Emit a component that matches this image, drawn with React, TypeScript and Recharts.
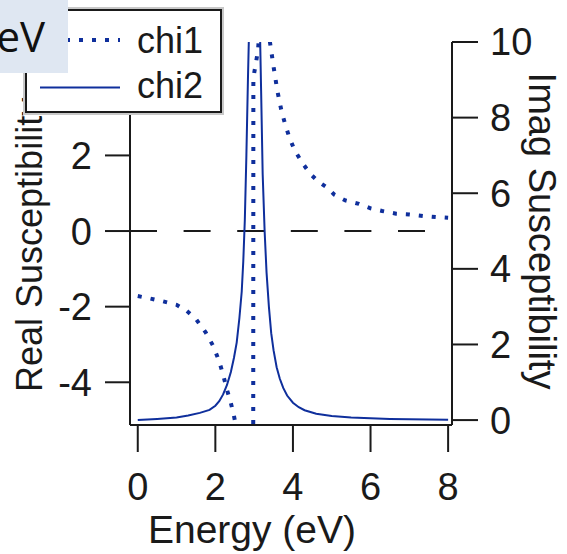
import React from 'react';
import { ComposedChart, Line, XAxis, YAxis, ReferenceLine, Legend, Label } from 'recharts';

const energyTicks = [0, 2, 4, 6, 8];
const realTicks = [-4, -2, 0, 2, 4];
const imagTicks = [0, 2, 4, 6, 8, 10];

const chi1Energy = [0, 0.3, 0.65, 1.0, 1.25, 1.5, 1.75, 1.95, 2.1, 2.2, 2.3, 2.4, 2.47, 2.55, 2.65, 2.75, 2.85, 2.92, 2.955, 2.98, 3.1, 3.2, 3.3, 3.4, 3.5, 3.6, 3.7, 3.8, 3.9, 4.04, 4.25, 4.45, 4.66, 4.88, 5.07, 5.35, 5.7, 6.0, 6.3, 6.66, 7.0, 7.35, 7.7, 8.0];
const chi1Values = [-1.72, -1.78, -1.86, -1.95, -2.1, -2.33, -2.68, -3.05, -3.45, -3.8, -4.2, -4.55, -4.84, -5.25, -6.0, -7.5, -11, -20, -60, 4.05, 4.78, 6.3, 5.9, 5.05, 4.35, 3.7, 3.2, 2.82, 2.5, 2.14, 1.79, 1.51, 1.3, 1.15, 0.96, 0.81, 0.72, 0.6, 0.53, 0.46, 0.44, 0.4, 0.37, 0.35];

const chi2Energy = [0, 0.5, 1.0, 1.3, 1.6, 1.85, 2.0, 2.1, 2.2, 2.3, 2.4, 2.48, 2.55, 2.62, 2.68, 2.72, 2.76, 2.8, 2.84, 2.88, 2.95, 3.02, 3.1, 3.15, 3.18, 3.22, 3.27, 3.32, 3.38, 3.44, 3.5, 3.58, 3.66, 3.75, 3.85, 4.0, 4.15, 4.3, 4.6, 5.0, 5.5, 6.0, 6.5, 7.0, 8.0];
const chi2Values = [0.0, 0.03, 0.07, 0.12, 0.19, 0.27, 0.38, 0.5, 0.68, 0.93, 1.27, 1.65, 2.05, 2.7, 3.4, 4.2, 5.3, 7.0, 9.0, 10.8, 13.0, 14.0, 12.5, 10.3, 8.7, 6.5, 5.0, 3.9, 3.0, 2.3, 1.85, 1.4, 1.1, 0.85, 0.65, 0.46, 0.34, 0.26, 0.17, 0.11, 0.07, 0.05, 0.03, 0.02, 0.01];

const seriesNames = ['chi1', 'chi2'];

const chi1Data = chi1Energy.map((e, i) => ({ e, chi1: chi1Values[i] }));
const chi2Data = chi2Energy.map((e, i) => ({ e, chi2: chi2Values[i] }));

const FONT = '"Liberation Sans", Arial, sans-serif';
const INK = '#1a1a1a';
const BLUE = '#0f2f9c';

const renderLegend = () => (
  <svg width={201} height={108} style={{ display: 'block' }}>
    <rect x={1} y={1} width={199} height={106} fill="#fff" stroke="#c8c8c8" strokeWidth={2} />
    <rect x={3} y={3} width={195} height={102} fill="#fff" stroke={INK} strokeWidth={2} />
    <line x1={17} x2={97} y1={33} y2={33} stroke={BLUE} strokeWidth={4} strokeDasharray="4 9" />
    <line x1={17} x2={97} y1={80.5} y2={80.5} stroke={BLUE} strokeWidth={2} />
    <text x={114} y={46} fontSize={36} fontFamily={FONT} fill={INK}>{seriesNames[0]}</text>
    <text x={114} y={91} fontSize={36} fontFamily={FONT} fill={INK}>{seriesNames[1]}</text>
  </svg>
);

export default function App() {
  const axisStroke = { stroke: INK, strokeWidth: 2 };
  const tickStyle = { fill: INK, fontSize: 38, fontFamily: FONT };
  return (
    <div style={{ position: 'absolute', left: 0, top: 0, width: 567, height: 554, background: '#fff', overflow: 'hidden' }}>
      <ComposedChart width={567} height={554} margin={{ top: 42, right: 0, bottom: 0, left: 0 }}>
        <XAxis
          type="number"
          dataKey="e"
          domain={[-0.2, 8.1]}
          allowDataOverflow
          ticks={energyTicks}
          interval={0}
          height={129}
          tickSize={27}
          tickMargin={21}
          axisLine={axisStroke}
          tickLine={axisStroke}
          tick={tickStyle}
        >
          <Label
            content={() => (
              <text x={252} y={543} textAnchor="middle" fontSize={39} fontFamily={FONT} fill={INK}>
                Energy (eV)
              </text>
            )}
          />
        </XAxis>
        <YAxis
          yAxisId="left"
          orientation="left"
          width={130}
          domain={[-5.13, 5]}
          allowDataOverflow
          ticks={realTicks}
          interval={0}
          tickSize={25}
          tickMargin={13}
          axisLine={axisStroke}
          tickLine={axisStroke}
          tick={tickStyle}
        >
          <Label
            content={() => (
              <text x={42} y={392} transform="rotate(-90, 42, 392)" textAnchor="start" fontSize={36} fontFamily={FONT} fill={INK}>
                Real Susceptibility
              </text>
            )}
          />
        </YAxis>
        <YAxis
          yAxisId="right"
          orientation="right"
          width={115}
          domain={[-0.13, 10]}
          allowDataOverflow
          ticks={imagTicks}
          interval={0}
          tickSize={26}
          tickMargin={12}
          axisLine={axisStroke}
          tickLine={axisStroke}
          tick={tickStyle}
        >
          <Label
            content={() => (
              <text x={529} y={231} transform="rotate(90, 529, 231)" textAnchor="middle" fontSize={38} fontFamily={FONT} fill={INK}>
                Imag Susceptibility
              </text>
            )}
          />
        </YAxis>
        <ReferenceLine yAxisId="left" y={0} stroke={INK} strokeWidth={2} strokeDasharray="27 26.6" />
        <Line
          data={chi2Data}
          dataKey="chi2"
          name={seriesNames[1]}
          yAxisId="right"
          type="linear"
          stroke={BLUE}
          strokeWidth={2}
          dot={false}
          activeDot={false}
          isAnimationActive={false}
        />
        <Line
          data={chi1Data}
          dataKey="chi1"
          name={seriesNames[0]}
          yAxisId="left"
          type="linear"
          stroke={BLUE}
          strokeWidth={4}
          strokeDasharray="4 9"
          dot={false}
          activeDot={false}
          isAnimationActive={false}
        />
        <Legend
          layout="horizontal"
          verticalAlign="middle"
          align="center"
          content={renderLegend}
          wrapperStyle={{ position: 'absolute', left: 23, top: 7, width: 201, height: 108 }}
        />
      </ComposedChart>
      <div style={{ position: 'absolute', left: 0, top: 0, width: 68, height: 73, background: '#dfe7f2' }}>
        <svg width={68} height={73} style={{ display: 'block' }}>
          <text x={45} y={52} textAnchor="end" fontSize={42} fontFamily='"Open Sans", "Noto Sans", sans-serif' fill="#111">
            eV
          </text>
        </svg>
      </div>
    </div>
  );
}
